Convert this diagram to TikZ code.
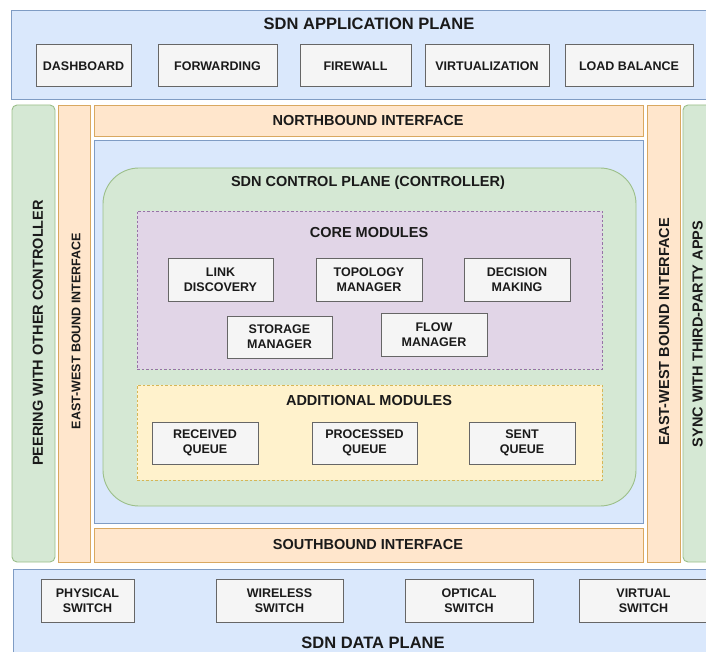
\documentclass[tikz,border=0pt]{standalone}
\usepackage{fontspec}
\setmainfont{Liberation Sans}
\definecolor{planeF}{HTML}{DAE8FC}
\definecolor{planeB}{HTML}{7F9CC4}
\definecolor{ifF}{HTML}{FFE6CC}
\definecolor{ifB}{HTML}{D9A860}
\definecolor{grF}{HTML}{D5E8D4}
\definecolor{grB}{HTML}{9CBF8A}
\definecolor{purF}{HTML}{E1D5E7}
\definecolor{purB}{HTML}{9673A6}
\definecolor{yelF}{HTML}{FFF2CC}
\definecolor{yelB}{HTML}{D6B656}
\definecolor{itF}{HTML}{F5F5F5}
\definecolor{itB}{HTML}{666666}
\definecolor{ink}{HTML}{1A1A1A}
\begin{document}
\begin{tikzpicture}[x=1pt,y=-1pt,
  box/.style={inner sep=0pt, outer sep=0pt, line width=0.9pt},
  plane/.style={box, draw=planeB, fill=planeF},
  iface/.style={box, draw=ifB, fill=ifF},
  side/.style={box, draw=grB, fill=grF, rounded corners=5pt},
  ctrl/.style={box, draw=grB, fill=grF, rounded corners=36pt},
  core/.style={box, draw=purB, fill=purF, dash pattern=on 2.5pt off 2pt},
  extra/.style={box, draw=yelB, fill=yelF, dash pattern=on 2.5pt off 2pt},
  item/.style={box, draw=itB, fill=itF, line width=1pt,
    font=\bfseries\fontsize{12.5}{15}\selectfont, text=ink, align=center},
  small/.style={font=\bfseries\fontsize{12.5}{15}\selectfont, text=ink, inner sep=0pt},
  head/.style={font=\bfseries\fontsize{14.5}{17}\selectfont, text=ink, inner sep=0pt},
  big/.style={font=\bfseries\fontsize{16.5}{19}\selectfont, text=ink, inner sep=0pt},
  sz/.style 2 args={minimum width=#1pt, minimum height=#2pt}
]
\useasboundingbox (0,0) rectangle (706,652);
\clip (0,0) rectangle (706,652);
\fill[white] (0,0) rectangle (706,652);

% application plane
\node[plane, sz={704}{89}] (app) at (363,54.5) {};
\node[big] (appT) at (369,24) {SDN APPLICATION PLANE};
\node[item, sz={95}{42}]  (dash) at (83.5,66)  {DASHBOARD};
\node[item, sz={119}{42}] (fwd)  at (217.5,66) {FORWARDING};
\node[item, sz={111}{42}] (fw)   at (355.5,66) {FIREWALL};
\node[item, sz={124}{42}] (virt) at (487,66)   {VIRTUALIZATION};
\node[item, sz={128}{42}] (lb)   at (629,66)   {LOAD BALANCE};

% data plane
\node[plane, sz={702}{91}] (data) at (364,614.5) {};
\node[big] (dataT) at (373,643) {SDN DATA PLANE};
\node[item, sz={93}{43}]  (phy)  at (87.5,600.5)  {PHYSICAL\\SWITCH};
\node[item, sz={127}{43}] (wls)  at (279.5,600.5) {WIRELESS\\SWITCH};
\node[item, sz={128}{43}] (opt)  at (469,600.5)   {OPTICAL\\SWITCH};
\node[item, sz={129}{43}] (vsw)  at (643.5,600.5) {VIRTUAL\\SWITCH};

% side columns
\node[side,  sz={43}{457}] (peer) at (33.5,333.5) {};
\node[head, rotate=90] (peerT) at (38,333) {PEERING WITH OTHER CONTROLLER};
\node[iface, sz={32}{457}] (ewL) at (74,333.5) {};
\node[small, rotate=90] (ewLT) at (76,331) {EAST-WEST BOUND INTERFACE};
\node[iface, sz={33}{457}] (ewR) at (663.5,333.5) {};
\node[head, rotate=90] (ewRT) at (664,332) {EAST-WEST BOUND INTERFACE};
\node[side,  sz={35}{457}] (sync) at (700.5,333.5) {};
\node[head, rotate=90] (syncT) at (697.5,334) {SYNC WITH THIRD-PARTY APPS};

% interfaces and controller frame
\node[iface, sz={549}{31}]  (north) at (368.5,120.5) {};
\node[head] (northT) at (368,121) {NORTHBOUND INTERFACE};
\node[plane, sz={549}{383}] (inner) at (368.5,331.5) {};
\node[iface, sz={549}{34}]  (south) at (368.5,545) {};
\node[head] (southT) at (368,545) {SOUTHBOUND INTERFACE};

% controller
\node[ctrl, sz={533}{338}] (ctl) at (369.5,337) {};
\node[head] (ctlT) at (368,183) {SDN CONTROL PLANE (CONTROLLER)};

% core modules
\node[core, sz={465}{158}] (coreB) at (369.5,290) {};
\node[head] (coreT) at (369,233) {CORE MODULES};
\node[item, sz={105}{43}] (link) at (220.5,279.5) {LINK\\DISCOVERY};
\node[item, sz={106}{43}] (topo) at (369,279.5)   {TOPOLOGY\\MANAGER};
\node[item, sz={106}{43}] (dec)  at (517,279.5)   {DECISION\\MAKING};
\node[item, sz={105}{42}] (stor) at (279.5,337)   {STORAGE\\MANAGER};
\node[item, sz={106}{43}] (flow) at (434,334.5)   {FLOW\\MANAGER};

% additional modules
\node[extra, sz={465}{95}] (addB) at (369.5,432.5) {};
\node[head] (addT) at (369,401) {ADDITIONAL MODULES};
\node[item, sz={106}{42}] (rq) at (205,443)   {RECEIVED\\QUEUE};
\node[item, sz={105}{42}] (pq) at (364.5,443) {PROCESSED\\QUEUE};
\node[item, sz={106}{42}] (sq) at (522,443)   {SENT\\QUEUE};
\end{tikzpicture}
\end{document}
